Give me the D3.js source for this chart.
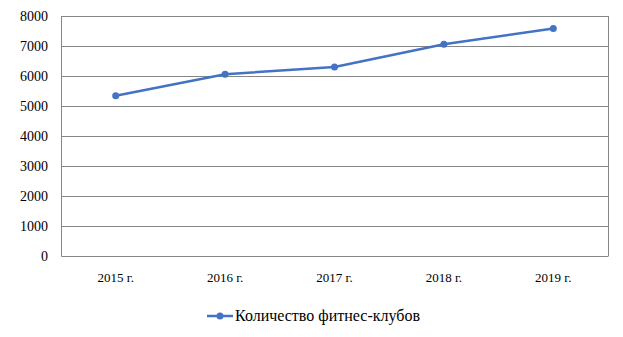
<!DOCTYPE html>
<html><head><meta charset="utf-8">
<script src="https://cdn.jsdelivr.net/npm/d3@7"></script>
</head><body style="margin:0;background:#fff">
<script>
const categories = ["2015 г.", "2016 г.", "2017 г.", "2018 г.", "2019 г."];
const values = [5340, 6060, 6300, 7060, 7580];
const yTicks = [0, 1000, 2000, 3000, 4000, 5000, 6000, 7000, 8000];
const seriesName = "Количество фитнес-клубов";

const W = 623, H = 337;
const m = {left: 61, right: 15, top: 16, bottom: 81};
const svg = d3.select("body").append("svg").attr("width", W).attr("height", H)
  .attr("font-family", "Liberation Serif").style("display", "block");
const x = d3.scaleBand().domain(categories).range([m.left, W - m.right]);
const y = d3.scaleLinear().domain([0, 8000]).range([H - m.bottom, m.top]);
const grid = "#868686";

svg.append("g").selectAll("line").data(yTicks.filter(d => d > 0)).join("line")
  .attr("x1", m.left).attr("x2", W - m.right)
  .attr("y1", d => y(d)).attr("y2", d => y(d))
  .attr("stroke", grid).attr("stroke-width", 1).attr("shape-rendering", "crispEdges");
svg.append("line").attr("x1", W - m.right).attr("x2", W - m.right)
  .attr("y1", m.top).attr("y2", H - m.bottom).attr("stroke", grid).attr("shape-rendering", "crispEdges");

const ya = svg.append("g").attr("transform", `translate(${m.left},0)`)
  .call(d3.axisLeft(y).tickValues(yTicks).tickSize(0).tickPadding(13).tickFormat(d3.format("d")));
ya.attr("font-family", "Liberation Serif").attr("font-size", 14);
ya.select(".domain").attr("stroke", grid);
ya.selectAll("text").attr("fill", "#000");

const xa = svg.append("g").attr("transform", `translate(0,${H - m.bottom})`)
  .call(d3.axisBottom(x).tickSize(0).tickPadding(17));
xa.attr("font-family", "Liberation Serif").attr("font-size", 13);
xa.select(".domain").attr("stroke", grid);
xa.selectAll("text").attr("fill", "#000");

const color = "#4472C4";
const cx = d => x(d) + x.bandwidth() / 2;
svg.append("path").datum(values)
  .attr("d", d3.line().x((d, i) => cx(categories[i])).y(d => y(d)))
  .attr("fill", "none").attr("stroke", color).attr("stroke-width", 2.5);
svg.append("g").selectAll("circle").data(values).join("circle")
  .attr("cx", (d, i) => cx(categories[i])).attr("cy", d => y(d)).attr("r", 3.5).attr("fill", color);

const lg = svg.append("g").attr("transform", "translate(207,316)");
lg.append("line").attr("x1", 0).attr("x2", 26).attr("stroke", color).attr("stroke-width", 2.5);
lg.append("circle").attr("cx", 13).attr("r", 3.5).attr("fill", color);
lg.append("text").attr("x", 28).attr("y", 5).attr("font-size", 16).text(seriesName);
</script>
</body></html>
